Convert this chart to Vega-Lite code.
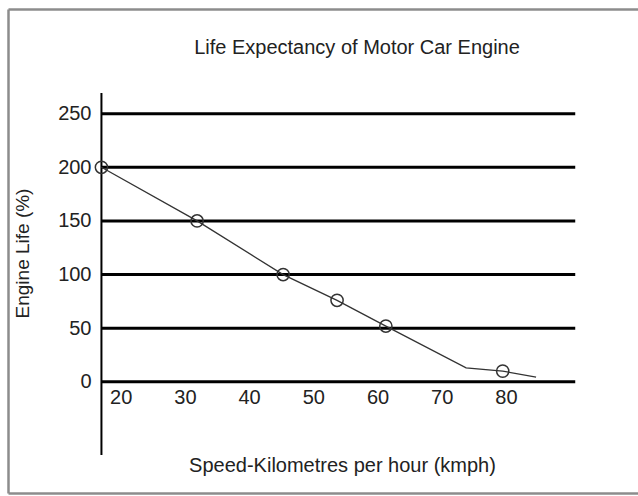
{
  "$schema": "https://vega.github.io/schema/vega-lite/v6.json",
  "width": 630,
  "height": 484,
  "autosize": "none",
  "padding": {"left": 8, "top": 9, "right": 0, "bottom": 3},
  "background": "white",
  "config": {"view": {"stroke": null}, "font": "Liberation Sans"},
  "title": {
    "text": "Life Expectancy of Motor Car Engine",
    "fontSize": 20,
    "fontWeight": "normal",
    "color": "#222222",
    "font": "Liberation Sans",
    "offset": -59,
    "baseline": "middle",
    "dx": 34
  },
  "datasets": {
    "curve": [
      {"speed": 17.0, "life": 200, "circle": true},
      {"speed": 31.9, "life": 150, "circle": true},
      {"speed": 45.3, "life": 100, "circle": true},
      {"speed": 53.7, "life": 76, "circle": true},
      {"speed": 61.3, "life": 52, "circle": true},
      {"speed": 73.8, "life": 13, "circle": false},
      {"speed": 79.5, "life": 10, "circle": true},
      {"speed": 84.7, "life": 4.5, "circle": false}
    ],
    "grid": [
      {"life": 0}, {"life": 50}, {"life": 100}, {"life": 150}, {"life": 200}, {"life": 250}
    ]
  },
  "layer": [
    {
      "data": {"values": [{}]},
      "mark": {"type": "rule", "stroke": "#000000", "strokeWidth": 2},
      "encoding": {
        "x": {"datum": 17.0, "type": "quantitative", "scale": {"domain": [2.445, 100.576], "nice": false, "zero": false}, "axis": null},
        "y": {
          "datum": -68.2, "type": "quantitative",
          "scale": {"domain": [-103.61, 347.55], "nice": false, "zero": false},
          "axis": {
            "orient": "left", "domain": true, "domainColor": "#8c8c8c", "domainWidth": 2.5,
            "ticks": false, "tickSize": 0, "grid": false,
            "values": [0, 50, 100, 150, 200, 250],
            "labelPadding": -83, "labelAlign": "right", "labelBaseline": "middle", "labelFontSize": 20,
            "labelColor": "#222222", "labelFont": "Liberation Sans", "labelFlush": false, "labelOverlap": false,
            "title": "Engine Life (%)", "titleX": 14, "titleY": 244, "titleAngle": -90,
            "titleBaseline": "middle", "titleAlign": "center", "titleFontSize": 19,
            "titleFontWeight": "normal", "titleColor": "#222222", "titleFont": "Liberation Sans"
          }
        },
        "y2": {"datum": 269.2}
      }
    },
    {
      "data": {"name": "grid"},
      "mark": {"type": "rule", "stroke": "#000000", "strokeWidth": 3},
      "encoding": {
        "y": {"field": "life", "type": "quantitative", "axis": null},
        "x": {"datum": 17.0, "type": "quantitative", "axis": null},
        "x2": {"datum": 90.8}
      }
    },
    {
      "data": {"name": "curve"},
      "mark": {"type": "line", "stroke": "#333333", "strokeWidth": 1.3},
      "encoding": {
        "x": {
          "field": "speed", "type": "quantitative",
          "axis": {
            "orient": "bottom", "domain": true, "domainColor": "#8c8c8c", "domainWidth": 2.5,
            "ticks": false, "tickSize": 0, "grid": false,
            "values": [20, 30, 40, 50, 60, 70, 80],
            "labelPadding": -95.5, "labelBaseline": "middle", "labelFontSize": 20,
            "labelColor": "#222222", "labelFont": "Liberation Sans", "labelFlush": false, "labelOverlap": false,
            "title": "Speed-Kilometres per hour (kmph)", "titleX": 334, "titleY": -28,
            "titleBaseline": "middle", "titleAlign": "center", "titleFontSize": 20,
            "titleFontWeight": "normal", "titleColor": "#222222", "titleFont": "Liberation Sans"
          }
        },
        "y": {"field": "life", "type": "quantitative", "axis": null}
      }
    },
    {
      "data": {"name": "curve"},
      "transform": [{"filter": "datum.circle"}],
      "mark": {"type": "point", "shape": "circle", "filled": false, "stroke": "#333333", "strokeWidth": 1.5, "size": 150, "opacity": 1},
      "encoding": {
        "x": {
          "field": "speed", "type": "quantitative",
          "axis": {
            "orient": "top", "domain": true, "domainColor": "#8c8c8c", "domainWidth": 2.5,
            "ticks": false, "labels": false, "grid": false, "title": null
          }
        },
        "y": {"field": "life", "type": "quantitative", "axis": null}
      }
    }
  ],
  "resolve": {"axis": {"x": "independent", "y": "independent"}}
}
